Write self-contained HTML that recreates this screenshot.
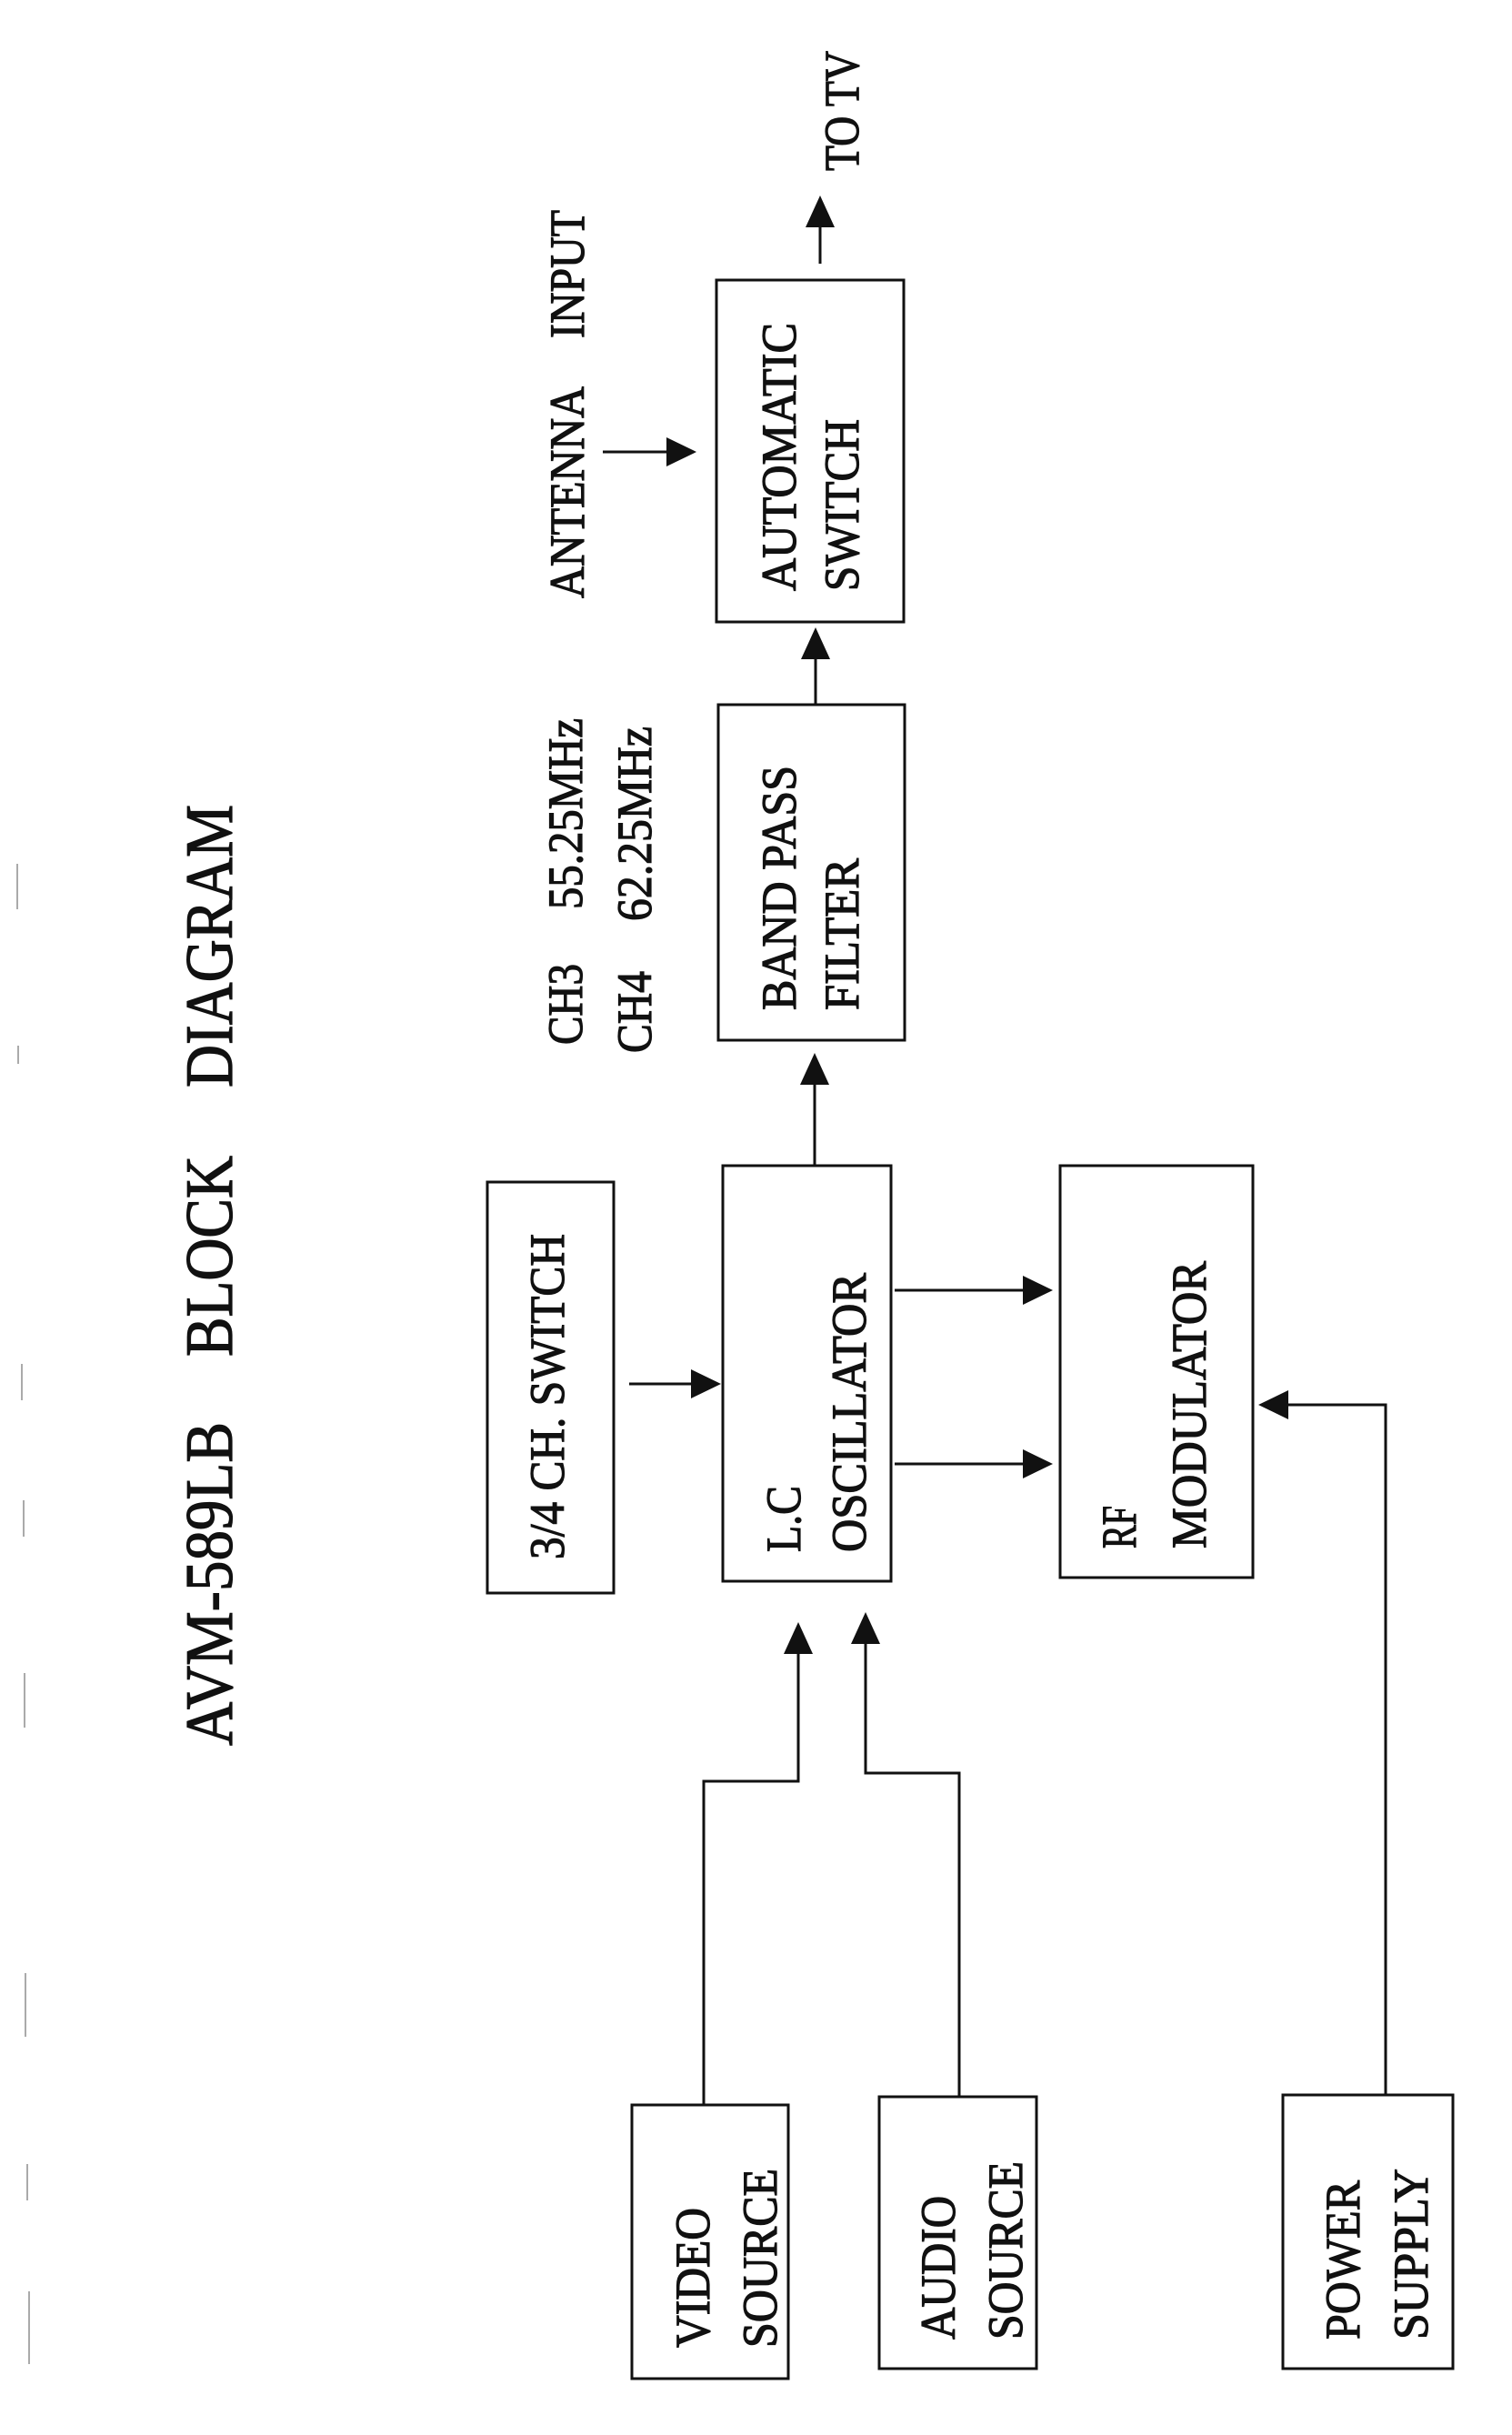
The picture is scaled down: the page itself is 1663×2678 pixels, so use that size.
<!DOCTYPE html>
<html><head><meta charset="utf-8"><style>html,body{margin:0;padding:0;background:#fff}svg{display:block}</style></head><body>
<svg width="1663" height="2678" viewBox="0 0 1663 2678" xmlns="http://www.w3.org/2000/svg" font-family="'Liberation Serif', serif" fill="#111">
<g stroke="#aaa" stroke-width="2">
<line x1="19" y1="950" x2="19" y2="1000"/><line x1="20" y1="1150" x2="20" y2="1170"/>
<line x1="24" y1="1500" x2="24" y2="1540"/><line x1="26" y1="1650" x2="26" y2="1690"/>
<line x1="27" y1="1840" x2="27" y2="1900"/><line x1="28" y1="2170" x2="28" y2="2240"/>
<line x1="30" y1="2380" x2="30" y2="2420"/><line x1="32" y1="2520" x2="32" y2="2600"/>
</g>
<g fill="none" stroke="#111" stroke-width="3">
<rect x="788" y="308" width="206" height="376"/>
<rect x="790" y="775" width="205" height="369"/>
<rect x="536" y="1300" width="139" height="452"/>
<rect x="795" y="1282" width="185" height="457"/>
<rect x="1166" y="1282" width="212" height="453"/>
<rect x="695" y="2315" width="172" height="301"/>
<rect x="967" y="2306" width="173" height="299"/>
<rect x="1411" y="2304" width="187" height="301"/>
<line x1="902" y1="290" x2="902" y2="240"/>
<line x1="663" y1="497" x2="745" y2="497"/>
<line x1="897" y1="775" x2="897" y2="715"/>
<line x1="896" y1="1282" x2="896" y2="1185"/>
<line x1="692" y1="1522" x2="770" y2="1522"/>
<line x1="984" y1="1419" x2="1135" y2="1419"/>
<line x1="984" y1="1610" x2="1135" y2="1610"/>
<polyline points="1524,2304 1524,1545 1405,1545"/>
<polyline points="774,2315 774,1959 878,1959 878,1810"/>
<polyline points="1055,2306 1055,1950 952,1950 952,1798"/>
</g>
<g fill="#111">
<polygon points="902,215 886,250 918,250"/>
<polygon points="766,497 733,481 733,513"/>
<polygon points="897,690 881,725 913,725"/>
<polygon points="896,1158 880,1193 912,1193"/>
<polygon points="793,1522 760,1506 760,1538"/>
<polygon points="1158,1419 1125,1403 1125,1435"/>
<polygon points="1158,1610 1125,1594 1125,1626"/>
<polygon points="1384,1545 1417,1529 1417,1561"/>
<polygon points="878,1784 862,1819 894,1819"/>
<polygon points="952,1773 936,1808 968,1808"/>
</g>
<g font-size="74" stroke="#111" stroke-width="1.2">
<text transform="translate(255,1920) rotate(-90)" textLength="356" lengthAdjust="spacingAndGlyphs">AVM-589LB</text>
<text transform="translate(255,1492) rotate(-90)" textLength="221" lengthAdjust="spacingAndGlyphs">BLOCK</text>
<text transform="translate(255,1196) rotate(-90)" textLength="311" lengthAdjust="spacingAndGlyphs">DIAGRAM</text>
</g>
<g font-size="54" stroke="#111" stroke-width="1.2">
<text transform="translate(944,188) rotate(-90)" textLength="132" lengthAdjust="spacingAndGlyphs">TO TV</text>
<text transform="translate(642,658) rotate(-90)" textLength="233" lengthAdjust="spacingAndGlyphs">ANTENNA</text>
<text transform="translate(642,372) rotate(-90)" textLength="141" lengthAdjust="spacingAndGlyphs">INPUT</text>
<text transform="translate(640,1149) rotate(-90)" textLength="89" lengthAdjust="spacingAndGlyphs">CH3</text>
<text transform="translate(640,1000) rotate(-90)" textLength="210" lengthAdjust="spacingAndGlyphs">55.25MHz</text>
<text transform="translate(716,1158) rotate(-90)" textLength="90" lengthAdjust="spacingAndGlyphs">CH4</text>
<text transform="translate(716,1013) rotate(-90)" textLength="214" lengthAdjust="spacingAndGlyphs">62.25MHz</text>
<text transform="translate(875,650) rotate(-90)" textLength="295" lengthAdjust="spacingAndGlyphs">AUTOMATIC</text>
<text transform="translate(944,650) rotate(-90)" textLength="189" lengthAdjust="spacingAndGlyphs">SWITCH</text>
<text transform="translate(875,1111) rotate(-90)" textLength="269" lengthAdjust="spacingAndGlyphs">BAND PASS</text>
<text transform="translate(944,1111) rotate(-90)" textLength="167" lengthAdjust="spacingAndGlyphs">FILTER</text>
<text transform="translate(620,1715) rotate(-90)" textLength="358" lengthAdjust="spacingAndGlyphs">3/4 CH. SWITCH</text>
<text transform="translate(880,1707) rotate(-90)" textLength="73" lengthAdjust="spacingAndGlyphs">L.C</text>
<text transform="translate(952,1707) rotate(-90)" textLength="307" lengthAdjust="spacingAndGlyphs">OSCILLATOR</text>
<text transform="translate(1249,1703) rotate(-90)" textLength="47" lengthAdjust="spacingAndGlyphs">RF</text>
<text transform="translate(1326,1703) rotate(-90)" textLength="316" lengthAdjust="spacingAndGlyphs">MODULATOR</text>
<text transform="translate(780,2582) rotate(-90)" textLength="154" lengthAdjust="spacingAndGlyphs">VIDEO</text>
<text transform="translate(854,2582) rotate(-90)" textLength="197" lengthAdjust="spacingAndGlyphs">SOURCE</text>
<text transform="translate(1050,2573) rotate(-90)" textLength="158" lengthAdjust="spacingAndGlyphs">AUDIO</text>
<text transform="translate(1124,2573) rotate(-90)" textLength="196" lengthAdjust="spacingAndGlyphs">SOURCE</text>
<text transform="translate(1495,2573) rotate(-90)" textLength="175" lengthAdjust="spacingAndGlyphs">POWER</text>
<text transform="translate(1570,2573) rotate(-90)" textLength="188" lengthAdjust="spacingAndGlyphs">SUPPLY</text>
</g>
</svg>
</body></html>
